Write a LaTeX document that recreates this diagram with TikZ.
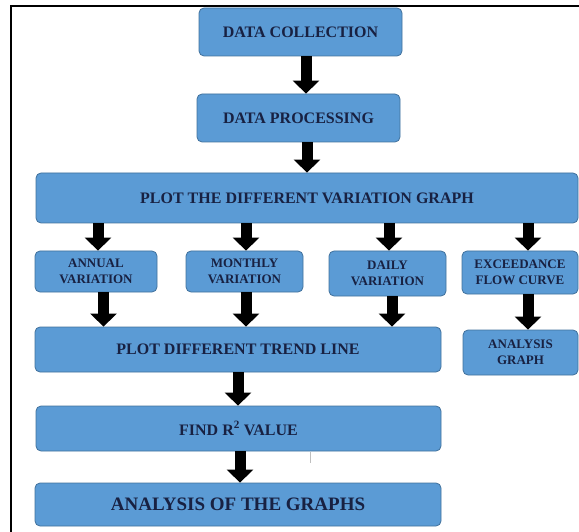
\documentclass[tikz,border=0pt]{standalone}
\usepackage{fontspec}
\setmainfont{Liberation Serif}
\usetikzlibrary{arrows.meta}
\definecolor{boxblue}{RGB}{91,155,213}
\definecolor{boxedge}{RGB}{65,113,156}
\definecolor{inkblue}{RGB}{24,33,66}
\begin{document}
\begin{tikzpicture}[x=1pt,y=-1pt,
    stage/.style={draw=boxedge, line width=0.8pt, fill=boxblue, rounded corners=5pt,
      text=inkblue, align=center, inner sep=0pt, font=\bfseries\fontsize{16}{17}\selectfont},
    small/.style={stage, font=\bfseries\fontsize{13}{16}\selectfont},
    flow/.style={line width=11pt, -{Triangle[width=26pt,length=13pt]}}]
  \useasboundingbox (0,0) rectangle (579,532);
  \draw[line width=2pt] (11,532) -- (11,6) -- (579,6);
  % main column
  \node[stage, minimum width=203pt, minimum height=48pt] (collect) at (300.5,32) {DATA COLLECTION};
  \node[stage, minimum width=203pt, minimum height=48pt] (process) at (298.5,118) {DATA PROCESSING};
  \node[stage, minimum width=542pt, minimum height=50pt] (variation) at (307,198) {PLOT THE DIFFERENT VARIATION GRAPH};
  \node[small, minimum width=122pt, minimum height=41pt] (annual) at (96,271.5) {ANNUAL\\VARIATION};
  \node[small, minimum width=117pt, minimum height=41pt] (monthly) at (244.5,271.5) {MONTHLY\\VARIATION};
  \node[small, minimum width=117pt, minimum height=45pt] (daily) at (387.5,273.5) {DAILY\\VARIATION};
  \node[small, minimum width=116pt, minimum height=43pt] (exceed) at (520,272.5) {EXCEEDANCE\\FLOW CURVE};
  \node[stage, minimum width=406pt, minimum height=45pt] (trend) at (238,349.5) {PLOT DIFFERENT TREND LINE};
  \node[small, minimum width=115pt, minimum height=45pt] (agraph) at (520.5,352.5) {ANALYSIS\\GRAPH};
  \node[stage, minimum width=405pt, minimum height=45pt] (rvalue) at (238.5,428.5) {FIND R\textsuperscript{2} VALUE};
  \node[stage, minimum width=406pt, minimum height=43pt, font=\bfseries\fontsize{19}{20}\selectfont] (graphs) at (238,504.5) {ANALYSIS OF THE GRAPHS};
  % arrows
  \draw[flow] ([xshift=5.5pt]collect.south) -- ([xshift=5.5pt]collect.south |- process.north);
  \draw[flow] ([xshift=8.5pt]process.south) -- ([xshift=8.5pt]process.south |- variation.north);
  \draw[flow] ([xshift=2pt]annual.north |- variation.south) -- ([xshift=2pt]annual.north);
  \draw[flow] ([xshift=1.5pt]monthly.north |- variation.south) -- ([xshift=1.5pt]monthly.north);
  \draw[flow] ([xshift=1.5pt]daily.north |- variation.south) -- ([xshift=1.5pt]daily.north);
  \draw[flow] ([xshift=8pt]exceed.north |- variation.south) -- ([xshift=8pt]exceed.north);
  \draw[flow] ([xshift=7.5pt]annual.south) -- ([xshift=7.5pt]annual.south |- trend.north);
  \draw[flow] ([xshift=1.5pt]monthly.south) -- ([xshift=1.5pt]monthly.south |- trend.north);
  \draw[flow] ([xshift=4.5pt]daily.south) -- ([xshift=4.5pt]daily.south |- trend.north);
  \draw[flow] ([xshift=8pt]exceed.south) -- ([xshift=8pt]exceed.south |- agraph.north);
  \draw[flow] (trend.south) -- (trend.south |- rvalue.north);
  \draw[flow] ([xshift=1.5pt]rvalue.south) -- ([xshift=1.5pt]rvalue.south |- graphs.north);
  \draw[gray!50, line width=1pt] (310,452) -- (310,463);
\end{tikzpicture}
\end{document}
